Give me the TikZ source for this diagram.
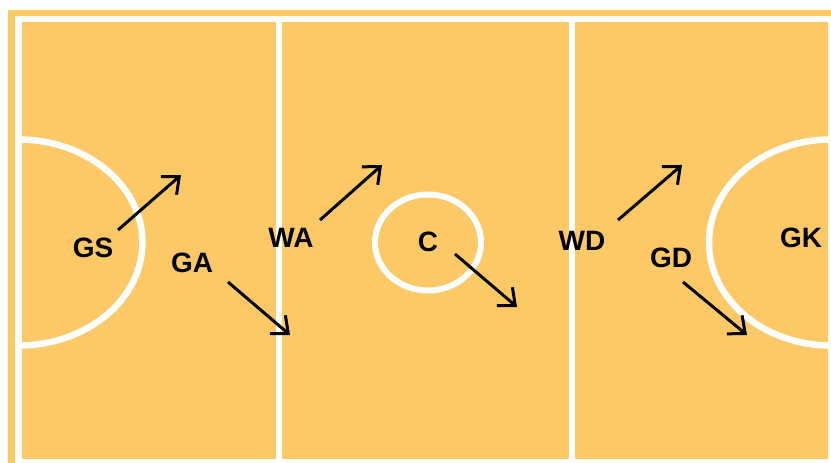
\documentclass[tikz,border=0pt]{standalone}
\usepackage{fontspec}
\setmainfont{Liberation Sans}
\usetikzlibrary{arrows.meta}
\definecolor{court}{RGB}{253,201,102}
\tikzset{
  courtline/.style={draw=white, line width=6.5bp},
  player/.style={font=\fontsize{28bp}{32bp}\selectfont\bfseries, text=black, inner sep=0pt},
  move/.style={draw=black, line width=3bp, -{Straight Barb[length=14bp,width=24bp]}}
}
\begin{document}
\begin{tikzpicture}[x=1bp, y=-1bp]
  \useasboundingbox (0,0) rectangle (831,463);
  \clip (0,0) rectangle (831,463);
  % playing surface
  \fill[court] (8,10) rectangle (840,470);
  % outer boundary and thirds
  \draw[courtline] (18.5,19) rectangle (831,462);
  \draw[courtline, line width=6bp] (279,19) -- (279,463);
  \draw[courtline, line width=6bp] (572,19) -- (572,463);
  % goal circles and centre circle
  \begin{scope}
    \clip (18.5,19) rectangle (831,463);
    \draw[courtline] (18.5,242.5) ellipse[x radius=124, y radius=103];
    \draw[courtline] (831,242.5) ellipse[x radius=122, y radius=103];
  \end{scope}
  \draw[courtline, line width=6bp] (428,242.5) ellipse[x radius=53, y radius=48];
  % player positions
  \node[player] (gs) at (93,248) {GS};
  \node[player] (ga) at (192,263) {GA};
  \node[player] (wa) at (291,238) {WA};
  \node[player] (c)  at (428,242) {C};
  \node[player] (wd) at (582,241) {WD};
  \node[player] (gd) at (671,258) {GD};
  \node[player] (gk) at (801,238) {GK};
  % movement arrows
  \coordinate (gs1) at (118,230); \coordinate (gs2) at (181,175);
  \coordinate (ga1) at (228,282); \coordinate (ga2) at (290,335);
  \coordinate (wa1) at (320,220); \coordinate (wa2) at (382,165);
  \coordinate (c1)  at (455,254); \coordinate (c2)  at (517,307);
  \coordinate (wd1) at (618,220); \coordinate (wd2) at (682,165);
  \coordinate (gd1) at (683,282); \coordinate (gd2) at (747,335);
  \draw[move] (gs1) -- (gs2);
  \draw[move] (ga1) -- (ga2);
  \draw[move] (wa1) -- (wa2);
  \draw[move] (c1) -- (c2);
  \draw[move] (wd1) -- (wd2);
  \draw[move] (gd1) -- (gd2);
\end{tikzpicture}
\end{document}
